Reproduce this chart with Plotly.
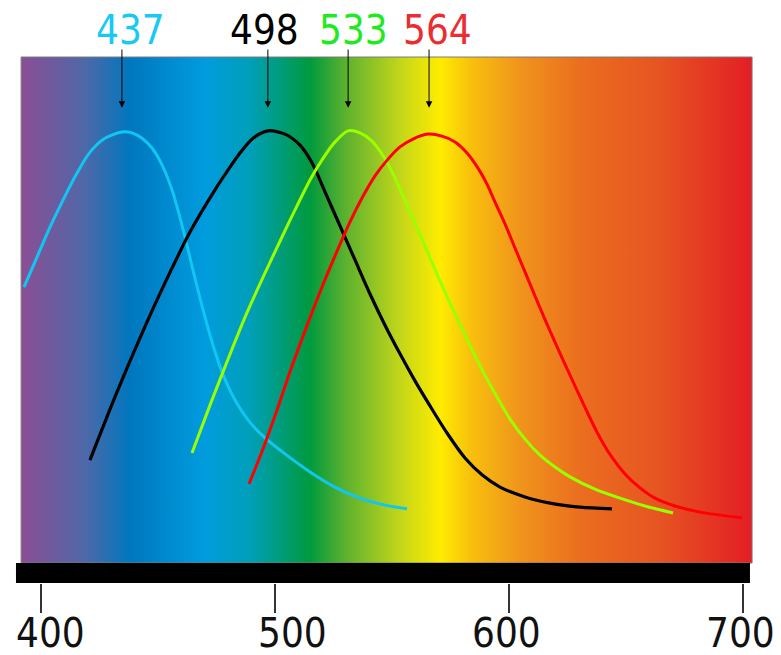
import plotly.graph_objects as go

# ---------------- data ----------------
peak_labels = ["437", "498", "533", "564"]
peak_nm = [437, 498, 533, 564]
arrow_nm = [434.6, 497.0, 531.3, 565.9]
label_colors = ["#19C8F5", "#000000", "#1EEB1E", "#EB2D32"]

s_nm = [392.73, 398.29, 403.85, 409.41, 415.39, 420.95, 427.36, 434.63, 438.91,
        443.18, 447.46, 451.73, 456.01, 460.28, 464.56, 468.83, 473.11, 477.38,
        482.51, 488.50, 495.77, 504.32, 515.01, 525.69, 536.38, 547.07, 556.48]
s_val = [0.617, 0.690, 0.763, 0.829, 0.895, 0.946, 0.980, 0.995, 0.993,
         0.980, 0.956, 0.915, 0.854, 0.768, 0.668, 0.571, 0.483, 0.410,
         0.346, 0.293, 0.249, 0.210, 0.166, 0.129, 0.102, 0.085, 0.076]

rod_nm = [420.95, 431.64, 442.33, 453.01, 463.70, 474.39, 479.95, 485.08, 490.64,
          497.05, 504.32, 510.73, 515.86, 521.42, 527.83, 534.24, 540.66, 547.07,
          553.48, 559.90, 566.31, 573.58, 581.27, 588.54, 596.24, 606.92, 617.61,
          630.44, 644.12]
rod_val = [0.195, 0.349, 0.493, 0.627, 0.751, 0.854, 0.902, 0.944, 0.980,
           0.998, 0.990, 0.963, 0.920, 0.849, 0.766, 0.683, 0.600, 0.524,
           0.454, 0.388, 0.327, 0.261, 0.200, 0.159, 0.129, 0.105, 0.090,
           0.080, 0.076]

m_nm = [464.56, 472.25, 479.95, 487.64, 495.34, 503.03, 509.45, 515.01, 520.14,
        525.27, 531.25, 536.38, 541.51, 546.64, 550.92, 554.77, 561.18, 567.59,
        574.00, 580.42, 586.83, 593.24, 600.51, 606.92, 613.34, 619.75, 626.16,
        636.85, 647.54, 658.23, 670.20]
m_val = [0.212, 0.329, 0.441, 0.549, 0.646, 0.739, 0.815, 0.878, 0.927,
         0.968, 0.998, 0.993, 0.973, 0.934, 0.888, 0.839, 0.756, 0.671,
         0.588, 0.510, 0.434, 0.366, 0.295, 0.246, 0.207, 0.178, 0.154,
         0.124, 0.102, 0.083, 0.066]

l_nm = [488.93, 494.91, 500.90, 506.88, 512.87, 519.28, 525.69, 532.11, 537.24,
        542.80, 548.35, 553.48, 559.04, 565.45, 571.44, 577.00, 582.13, 586.83,
        590.68, 594.10, 598.37, 602.65, 606.92, 611.20, 615.90, 621.03, 626.16,
        631.72, 637.71, 643.69, 649.68, 656.09, 662.50, 671.05, 681.74, 699.70]
l_val = [0.137, 0.222, 0.317, 0.417, 0.510, 0.605, 0.693, 0.776, 0.834,
         0.888, 0.929, 0.959, 0.978, 0.990, 0.985, 0.971, 0.944, 0.907,
         0.868, 0.824, 0.771, 0.712, 0.654, 0.595, 0.532, 0.466, 0.402,
         0.334, 0.263, 0.205, 0.161, 0.127, 0.102, 0.083, 0.068, 0.054]

curve_colors = ["#12C6F2", "#000000", "#99FF00", "#FF0000"]

tick_vals = [400, 500, 600, 700]
tick_text = ["400", "500", "600", "700"]

# spectrum background colour stops (nm, colour)
spec_nm = [391.5, 418.8, 438.0, 470.1, 489.4, 515.0, 530.0, 553.5, 570.6,
           583.4, 604.8, 630.4, 664.6, 704.0]
spec_col = ["#8B4E95", "#4E68A8", "#0077BE", "#009CDE", "#009FB8", "#009A3E",
            "#5BB12F", "#C2D61A", "#FFEC00", "#F8C10D", "#F0941C", "#EB6E1F",
            "#E65422", "#E31E25"]

# ---------------- layout geometry ----------------
X_RANGE = [382.47, 716.37]
Y_RANGE = [-0.1049, 1.3171]
SPEC_TOP, SPEC_BOT = 1.178, -0.0561
BAR_X0, BAR_X1 = 389.3, 703.1
FONT = "DejaVu Sans Condensed, DejaVu Sans, sans-serif"

fig = go.Figure()

# spectrum background as a gradient-filled rectangle
lo, hi = spec_nm[0], spec_nm[-1]
cscale = [[(v - lo) / (hi - lo), c] for v, c in zip(spec_nm, spec_col)]
fig.add_trace(go.Scatter(
    x=[lo, hi, hi, lo, lo], y=[SPEC_BOT, SPEC_BOT, SPEC_TOP, SPEC_TOP, SPEC_BOT],
    mode="lines", fill="toself",
    fillgradient=dict(type="horizontal", colorscale=cscale),
    line=dict(color="#7a7a7a", width=1),
    hoverinfo="skip", showlegend=False))

# black bar
fig.add_shape(type="rect", xref="x", yref="y", x0=BAR_X0, x1=BAR_X1,
              y0=Y_RANGE[0], y1=SPEC_BOT, fillcolor="#000000",
              line=dict(width=0), layer="above")

curves = [(s_nm, s_val), (rod_nm, rod_val), (m_nm, m_val), (l_nm, l_val)]
widths = [3, 3.2, 3, 3]
for (xs, ys), c, w in zip(curves, curve_colors, widths):
    fig.add_trace(go.Scatter(x=xs, y=ys, mode="lines",
                             line=dict(color=c, width=w, shape="spline", smoothing=0.8),
                             hoverinfo="skip", showlegend=False))

# arrows
for a in arrow_nm:
    fig.add_annotation(x=a, y=1.054, ax=a, ay=1.200, xref="x", yref="y",
                       axref="x", ayref="y", text="", showarrow=True,
                       arrowhead=2, arrowsize=1.3, arrowwidth=1, arrowcolor="#000000")

# peak labels
label_shift = [2.5, -6, 1, 13]
for t, p, c, s in zip(peak_labels, peak_nm, label_colors, label_shift):
    fig.add_annotation(x=p, y=1.244, xref="x", yref="y", text=t, showarrow=False,
                       xshift=s, font=dict(family=FONT, size=40, color=c),
                       xanchor="center", yanchor="middle")

# tick labels (below the plot area, paper-referenced vertically)
tick_shift = [9.5, 17.6, -2.8, -2.7]
for v, t, s in zip(tick_vals, tick_text, tick_shift):
    fig.add_annotation(x=v, y=-0.0858, xref="x", yref="paper", text=t, showarrow=False,
                       xshift=s, font=dict(family=FONT, size=40, color="#111111"),
                       xanchor="center", yanchor="middle")

fig.update_layout(
    width=781, height=655,
    margin=dict(l=0, r=0, t=0, b=72, pad=0),
    paper_bgcolor="white", plot_bgcolor="white",
    showlegend=False,
    xaxis=dict(range=X_RANGE, showgrid=False, zeroline=False, showline=False,
               tickmode="array", tickvals=tick_vals, showticklabels=False,
               ticks="outside", ticklen=29, tickwidth=2, tickcolor="#333333",
               fixedrange=True),
    yaxis=dict(range=Y_RANGE, visible=False, showgrid=False, zeroline=False,
               fixedrange=True),
)

fig.write_html("out.html")
